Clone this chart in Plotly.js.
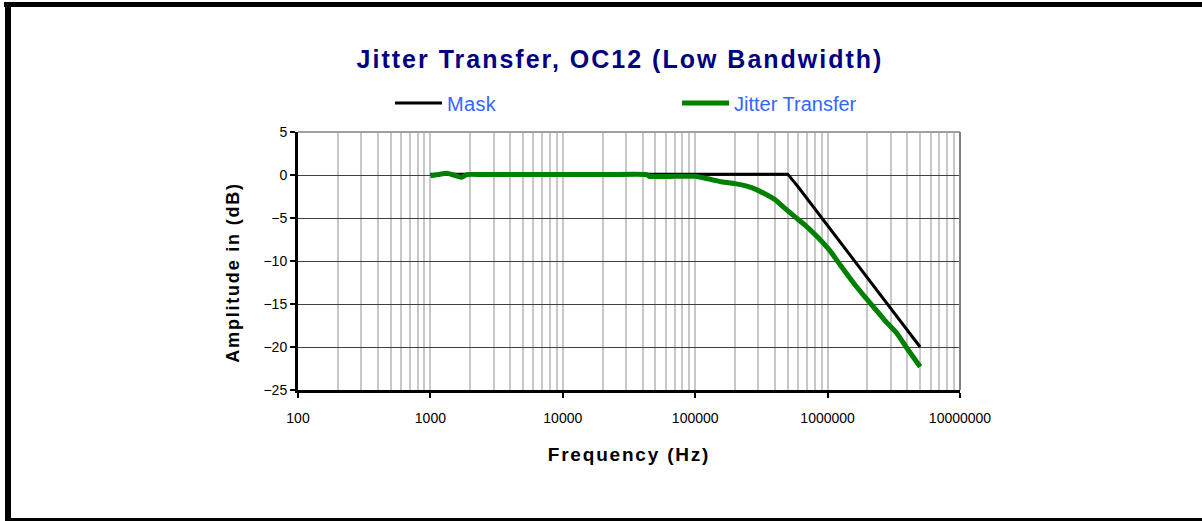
<!DOCTYPE html>
<html>
<head>
<meta charset="utf-8">
<script src="https://cdn.plot.ly/plotly-3.0.1.min.js"></script>
<style>
  html, body { margin: 0; padding: 0; background: #ffffff; }
  #wrap { position: relative; width: 1202px; height: 521px; overflow: hidden; }
  #chart { position: absolute; left: 0; top: 0; width: 1202px; height: 521px; }
  .frame { position: absolute; background: #000000; z-index: 10; }
  .gtitle { letter-spacing: 2px; }
  .xtitle, .annotation-text { letter-spacing: 1.8px; }
  .legendtext { letter-spacing: 0.3px; }
</style>
</head>
<body>
<div id="wrap">
  <div id="chart"></div>
  <div class="frame" style="left:4px; top:2px; width:1198px; height:5px;"></div>
  <div class="frame" style="left:5px; top:2px; width:6px; height:519px;"></div>
  <div class="frame" style="left:5px; top:518px; width:1197px; height:3px;"></div>
</div>
<script>
// ---- data ----
const maskFreq = [1000, 500000, 600000, 1000000, 2000000, 3000000, 5000000];
const maskDb   = [0.1, 0.1, -1.4, -5.9, -12.0, -15.6, -20.0];

const jitterFreq = [1000, 1150, 1330, 1500, 1720, 1880, 2500, 5000, 10000, 20000, 43000, 45000,
                    70000, 100000, 109000, 130000, 154000, 200000, 245000, 290000, 327000, 400000,
                    462000, 550000, 695000, 850000, 1040000, 1250000, 1560000, 1850000, 2210000,
                    2700000, 3330000, 4000000, 5000000];
const jitterDb   = [-0.1, 0.05, 0.2, 0.0, -0.27, 0.05, 0.05, 0.05, 0.05, 0.05, 0.05, -0.15,
                    -0.15, -0.15, -0.25, -0.5, -0.75, -1.0, -1.3, -1.7, -2.1, -2.85,
                    -3.7, -4.7, -6.0, -7.3, -8.8, -10.5, -12.5, -13.9, -15.3,
                    -16.9, -18.4, -20.2, -22.3];

const seriesNames = ['Mask', 'Jitter Transfer'];
const xTickVals = [100, 1000, 10000, 100000, 1000000, 10000000];
const xTickText = ['100', '1000', '10000', '100000', '1000000', '10000000'];
const yTickVals = [5, 0, -5, -10, -15, -20, -25];

const minorVals = [];
for (let d = 100; d < 10000000; d *= 10) {
  for (let m = 2; m <= 9; m++) minorVals.push(d * m);
}

const font = 'Liberation Sans, Arial, sans-serif';

const traces = [
  { x: maskFreq, y: maskDb, name: seriesNames[0], type: 'scatter', mode: 'lines',
    line: { color: '#000000', width: 3 }, legend: 'legend' },
  { x: jitterFreq, y: jitterDb, name: seriesNames[1], type: 'scatter', mode: 'lines',
    line: { color: '#008000', width: 5, shape: 'spline', smoothing: 0.5 }, legend: 'legend2' }
];

const legendBase = {
  orientation: 'h', xref: 'container', yref: 'container',
  xanchor: 'left', y: 1 - 103 / 521, yanchor: 'middle',
  font: { family: font, size: 20, color: '#3366ff' },
  itemwidth: 47, bgcolor: 'rgba(0,0,0,0)', borderwidth: 0
};

const layout = {
  width: 1202, height: 521,
  margin: { l: 298, r: 242, t: 132, b: 131, pad: 0, autoexpand: false },
  paper_bgcolor: '#ffffff', plot_bgcolor: '#ffffff',
  font: { family: font, color: '#000000', size: 14 },
  title: { text: 'Jitter Transfer, OC12 (Low Bandwidth)',
           font: { family: font, size: 25, color: '#000080', weight: 'bold' },
           x: 620 / 1202, xref: 'container', xanchor: 'center', y: 1 - 59 / 521, yref: 'container', yanchor: 'middle' },
  showlegend: true,
  legend: Object.assign({}, legendBase, { x: 390 / 1202 }),
  legend2: Object.assign({}, legendBase, { x: 677 / 1202 }),
  xaxis: {
    type: 'log', range: [2, 7], autorange: false,
    tickmode: 'array', tickvals: xTickVals, ticktext: xTickText,
    ticks: 'outside', ticklen: 5, tickwidth: 2, tickcolor: '#000000',
    ticklabelstandoff: 8,
    tickfont: { family: font, size: 14, color: '#000000' },
    showline: true, linecolor: '#000000', linewidth: 3,
    showgrid: true, gridcolor: '#c8c8c8', gridwidth: 2,
    minor: { tickmode: 'array', tickvals: minorVals, showgrid: true, gridcolor: '#c8c8c8', gridwidth: 2, ticks: '' },
    zeroline: false,
    title: { text: 'Frequency (Hz)', font: { family: font, size: 19, color: '#000000', weight: 'bold' }, standoff: 23 }
  },
  yaxis: {
    range: [-25, 5], autorange: false,
    tickmode: 'array', tickvals: yTickVals,
    ticks: 'outside', ticklen: 5, tickwidth: 2, tickcolor: '#000000',
    tickfont: { family: font, size: 14, color: '#000000' },
    showline: true, linecolor: '#000000', linewidth: 3,
    showgrid: true, gridcolor: '#404040', gridwidth: 1,
    zeroline: false
  },
  annotations: [
    { text: 'Amplitude in (dB)', xref: 'paper', yref: 'paper',
      x: (233 - 298) / 662, y: (390.5 - 273) / 258.5, xanchor: 'center', yanchor: 'middle',
      textangle: -90, showarrow: false,
      font: { family: font, size: 18, color: '#000000', weight: 'bold' } }
  ],
  shapes: [
    { type: 'line', xref: 'paper', yref: 'paper', x0: 0, x1: 1, y0: 1, y1: 1,
      line: { color: '#a0a0a0', width: 2 }, layer: 'above' },
    { type: 'line', xref: 'paper', yref: 'paper', x0: 1, x1: 1, y0: 0, y1: 1,
      line: { color: '#808080', width: 2 }, layer: 'above' }
  ]
};

Plotly.newPlot('chart', traces, layout, { displayModeBar: false, staticPlot: true });
</script>
</body>
</html>
